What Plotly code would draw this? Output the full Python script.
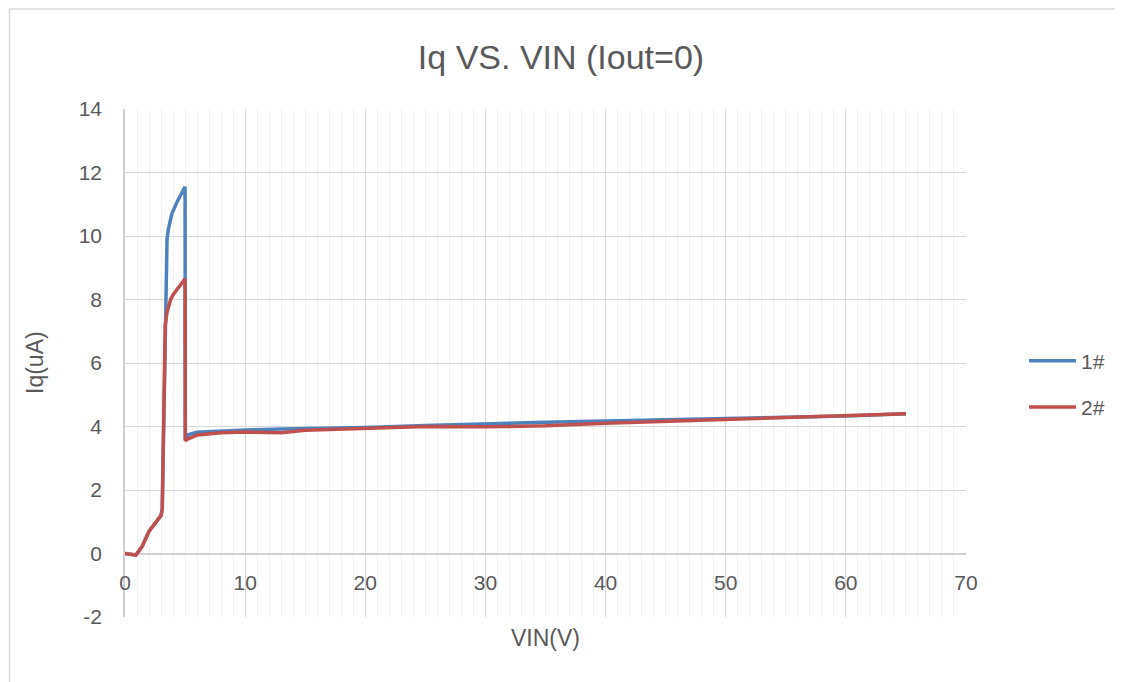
import plotly.graph_objects as go

# ---- data ----
vin_1 = [0, 0.5, 0.9, 1.4, 2.0, 2.5, 3.0, 3.1, 3.3, 3.4, 3.5, 3.6, 3.9, 4.3, 4.7, 5.0,
         5.02, 5.3, 6, 8, 10, 13, 15, 20, 25, 30, 35, 40, 45, 50, 55, 60, 65]
iq_1 = [0, -0.02, -0.05, 0.2, 0.7, 0.95, 1.2, 1.4, 6.0, 8.5, 9.9, 10.2, 10.7, 11.05, 11.35, 11.55,
        3.6, 3.75, 3.82, 3.86, 3.89, 3.92, 3.93, 3.97, 4.03, 4.09, 4.13, 4.17, 4.22, 4.25, 4.29, 4.33, 4.4]

vin_2 = [0, 0.5, 0.9, 1.4, 2.0, 2.5, 3.0, 3.1, 3.25, 3.35, 3.5, 3.8, 4.0, 4.3, 4.7, 5.0,
         5.02, 5.2, 6, 8, 10, 13, 15, 20, 25, 30, 35, 40, 45, 50, 55, 60, 65]
iq_2 = [0, -0.02, -0.05, 0.2, 0.7, 0.95, 1.2, 1.4, 5.0, 7.2, 7.6, 8.0, 8.15, 8.3, 8.5, 8.65,
        3.55, 3.6, 3.73, 3.8, 3.83, 3.8, 3.88, 3.95, 4.0, 3.99, 4.02, 4.1, 4.16, 4.22, 4.27, 4.32, 4.4]

series_names = ["1#", "2#"]
y_tickvals = [-2, 0, 2, 4, 6, 8, 10, 12, 14]
y_ticktext = ["-2", "0", "2", "4", "6", "8", "10", "12", "14"]
title_text = "Iq VS. VIN (Iout=0)"
x_title = "VIN(V)"
y_title = "Iq(uA)"

TXT = "#595959"
FONT = "Liberation Sans, Arial, sans-serif"
OFF = 8  # page body margin offset

fig = go.Figure()
fig.add_trace(go.Scatter(x=vin_1, y=iq_1, mode="lines", name=series_names[0],
                         line=dict(color="#4F81BD", width=3.5), legendgroup="a"))
fig.add_trace(go.Scatter(x=vin_2, y=iq_2, mode="lines", name=series_names[1],
                         line=dict(color="#C0504D", width=3.5), legendgroup="b"))

fig.update_layout(
    width=1123, height=682,
    margin=dict(l=125 - OFF, r=157 + OFF, t=109 - OFF, b=65 + OFF),
    paper_bgcolor="white", plot_bgcolor="white",
    font=dict(family=FONT, color=TXT, size=21),
    title=dict(text=title_text, x=(561 - OFF) / 1123, xref="container", xanchor="center",
               y=1 - (57 - OFF) / 682, yref="container", yanchor="middle",
               font=dict(size=34, color=TXT, family=FONT)),
    showlegend=True,
    legend=dict(x=1.069, y=0.4587, xanchor="left", yanchor="middle",
                font=dict(size=21, color=TXT), tracegroupgap=16, itemwidth=47,
                bgcolor="rgba(0,0,0,0)"),
    xaxis=dict(range=[0, 70], dtick=10, tick0=0, showgrid=True, gridcolor="#D9D9D9",
               gridwidth=1.3, zeroline=False, showline=False,
               anchor="free", position=2 / 16, ticks="", ticklabelstandoff=14,
               tickfont=dict(size=21, color=TXT),
               minor=dict(dtick=1, tick0=0, ticks="", showgrid=True,
                          gridcolor="#F2F2F2", gridwidth=1.3)),
    yaxis=dict(range=[-2, 14], tickvals=y_tickvals, ticktext=y_ticktext,
               showgrid=True, gridcolor="#D9D9D9",
               gridwidth=1.3, zeroline=True, zerolinecolor="#D0D0D0", zerolinewidth=1.6,
               showline=True, linecolor="#D0D0D0", linewidth=1.6,
               ticks="", ticklabelstandoff=17, tickfont=dict(size=21, color=TXT)),
)

fig.add_annotation(text=y_title, xref="paper", yref="paper", x=(35 - 125) / 841, y=0.5,
                   xanchor="center", yanchor="middle", textangle=-90, showarrow=False,
                   font=dict(size=23, color=TXT))
fig.add_annotation(text=x_title, xref="paper", yref="paper", x=0.5, y=-21 / 508,
                   xanchor="center", yanchor="middle", showarrow=False,
                   font=dict(size=23, color=TXT))

# outer chart border
fig.add_shape(type="rect", xref="paper", yref="paper",
              x0=(9.5 - 125) / 841, x1=(1140 - 125) / 841,
              y0=(617 - 700) / 508, y1=(617 - 9) / 508,
              line=dict(color="#D9D9D9", width=1.5), fillcolor="rgba(0,0,0,0)", layer="below")

fig.write_html("out.html")
